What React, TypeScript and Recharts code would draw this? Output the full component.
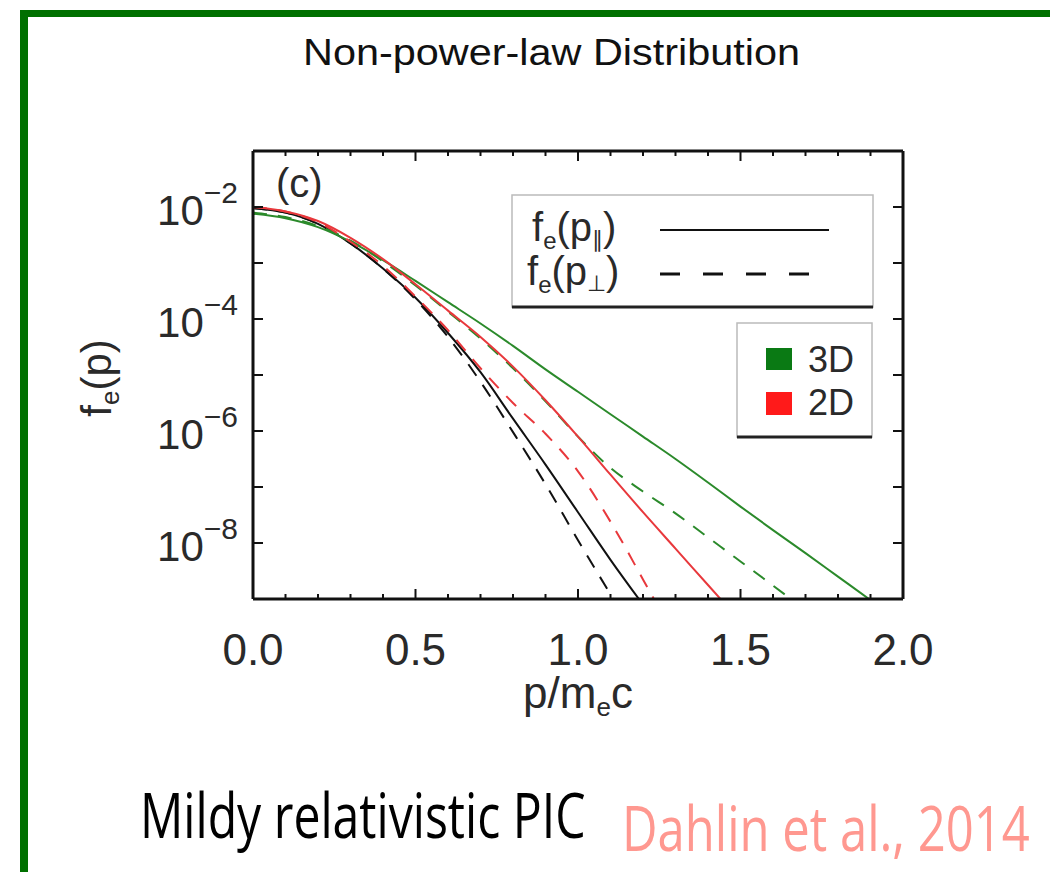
import { LineChart, Line, XAxis, YAxis } from 'recharts'

// momentum grid p / m_e c
const P = [0.0, 0.1, 0.2, 0.3, 0.4, 0.5, 0.6, 0.7, 0.8, 0.9, 1.0, 1.1, 1.2, 1.3, 1.4, 1.5, 1.6, 1.7, 1.8, 1.9, 2.0]

// log10 f_e(p) (null = curve already left the plot)
const GREEN_PAR = [-2.12, -2.2, -2.36, -2.62, -2.95, -3.32, -3.7, -4.08, -4.48, -4.9, -5.3, -5.7, -6.1, -6.5, -6.92, -7.35, -7.77, -8.18, -8.6, -9.02, -9.45]
const GREEN_PERP = [-2.1, -2.18, -2.34, -2.6, -2.97, -3.4, -3.87, -4.35, -4.88, -5.47, -6.1, -6.66, -7.08, -7.47, -7.9, -8.33, -8.76, -9.2, null, null, null]
const RED_PAR = [-2.0, -2.08, -2.25, -2.55, -2.93, -3.38, -3.85, -4.32, -4.85, -5.45, -6.1, -6.78, -7.45, -8.1, -8.75, -9.4, null, null, null, null, null]
const RED_PERP = [-2.0, -2.08, -2.27, -2.62, -3.05, -3.6, -4.2, -4.88, -5.5, -6.05, -6.72, -7.62, -8.65, -9.7, null, null, null, null, null, null, null]
const BLACK_PAR = [-2.02, -2.1, -2.3, -2.65, -3.1, -3.62, -4.25, -4.95, -5.78, -6.6, -7.45, -8.3, -9.1, null, null, null, null, null, null, null, null]
const BLACK_PERP = [-2.02, -2.1, -2.3, -2.65, -3.1, -3.65, -4.32, -5.12, -6.02, -6.95, -7.95, -8.92, -9.9, null, null, null, null, null, null, null, null]

const X_TICKS = [0, 0.1, 0.2, 0.3, 0.4, 0.5, 0.6, 0.7, 0.8, 0.9, 1, 1.1, 1.2, 1.3, 1.4, 1.5, 1.6, 1.7, 1.8, 1.9, 2]
const X_LABELS = [0, 0.5, 1, 1.5, 2]
const Y_TICKS = [1e-9, 1e-8, 1e-7, 1e-6, 1e-5, 1e-4, 1e-3, 1e-2, 1e-1]
const Y_LABEL_EXP = [-2, -4, -6, -8]

const GREEN = '#2b8a2b'
const RED = '#e8383c'
const BLACK = '#111111'
const AXIS = '#111111'
const TXT = '#2a2a2a'
const FONT = '"Liberation Sans", Arial, sans-serif'
const CAPTION_FONT = '"Open Sans", sans-serif'

const toF = (v: number | null) => (v === null ? null : Math.pow(10, v))

const data = P.map((p, i) => ({
  p,
  gPar: toF(GREEN_PAR[i]),
  gPerp: toF(GREEN_PERP[i]),
  rPar: toF(RED_PAR[i]),
  rPerp: toF(RED_PERP[i]),
  kPar: toF(BLACK_PAR[i]),
  kPerp: toF(BLACK_PERP[i]),
}))

const isMajorX = (v: number) => X_LABELS.some((l) => Math.abs(l - v) < 1e-6)

function BottomTick({ x, y, payload }: any) {
  const v = payload.value
  const major = isMajorX(v)
  return (
    <g>
      <line x1={x} x2={x} y1={y} y2={y - (major ? 10 : 5)} stroke={AXIS} strokeWidth={2} />
      {major && (
        <text x={x} y={y + 66} textAnchor="middle" fontSize={44} fill={TXT} fontFamily={FONT}>
          {v.toFixed(1)}
        </text>
      )}
    </g>
  )
}

function TopTick({ x, y, payload }: any) {
  const major = isMajorX(payload.value)
  return <line x1={x} x2={x} y1={y} y2={y + (major ? 10 : 5)} stroke={AXIS} strokeWidth={2} />
}

function LeftTick({ x, y, payload }: any) {
  const exp = Math.round(Math.log10(payload.value))
  return (
    <g>
      <line x1={x} x2={x + 10} y1={y} y2={y} stroke={AXIS} strokeWidth={2} />
      {Y_LABEL_EXP.includes(exp) && (
        <text x={x - 15} y={y + 18} textAnchor="end" fill={TXT} fontFamily={FONT}>
          <tspan fontSize={42}>10</tspan>
          <tspan fontSize={30} dy={-22}>{'\u2212' + Math.abs(exp)}</tspan>
        </text>
      )}
    </g>
  )
}

function RightTick({ x, y }: any) {
  return <line x1={x} x2={x - 10} y1={y} y2={y} stroke={AXIS} strokeWidth={2} />
}

const axisLine = { stroke: AXIS, strokeWidth: 3 }

export default function App() {
  return (
    <div style={{ position: 'absolute', left: 0, top: 0, width: 1050, height: 872, background: '#fff', overflow: 'hidden' }}>
      <div style={{ position: 'absolute', left: 20, top: 10, width: 1100, height: 1000, borderTop: '7px solid #007000', borderLeft: '8px solid #007000' }} />
      <div style={{ position: 'absolute', left: 0, top: 0 }}>
        <LineChart width={1050} height={872} data={data} margin={{ top: 131, right: 127, bottom: 253, left: 233 }}>
          <XAxis xAxisId="b" dataKey="p" type="number" domain={[0, 2]} ticks={X_TICKS} interval={0}
            orientation="bottom" height={20} tickSize={0} tickMargin={0} axisLine={axisLine} tickLine={false} tick={BottomTick} />
          <XAxis xAxisId="t" dataKey="p" type="number" domain={[0, 2]} ticks={X_TICKS} interval={0}
            orientation="top" height={20} tickSize={0} tickMargin={0} axisLine={axisLine} tickLine={false} tick={TopTick} />
          <YAxis yAxisId="l" type="number" scale="log" domain={[1e-9, 1e-1]} allowDataOverflow ticks={Y_TICKS} interval={0}
            orientation="left" width={20} tickSize={0} tickMargin={0} axisLine={axisLine} tickLine={false} tick={LeftTick} />
          <YAxis yAxisId="r" type="number" scale="log" domain={[1e-9, 1e-1]} allowDataOverflow ticks={Y_TICKS} interval={0}
            orientation="right" width={20} tickSize={0} tickMargin={0} axisLine={axisLine} tickLine={false} tick={RightTick} />

          <Line xAxisId="t" yAxisId="r" dataKey="gPar" stroke="transparent" dot={false} legendType="none" isAnimationActive={false} />

          <Line xAxisId="b" yAxisId="l" type="monotone" dataKey="kPerp" stroke={BLACK} strokeWidth={2} strokeDasharray="14 11" dot={false} isAnimationActive={false} />
          <Line xAxisId="b" yAxisId="l" type="monotone" dataKey="kPar" stroke={BLACK} strokeWidth={2} dot={false} isAnimationActive={false} />
          <Line xAxisId="b" yAxisId="l" type="monotone" dataKey="gPerp" stroke={GREEN} strokeWidth={2} strokeDasharray="14 11" dot={false} isAnimationActive={false} />
          <Line xAxisId="b" yAxisId="l" type="monotone" dataKey="gPar" stroke={GREEN} strokeWidth={2} dot={false} isAnimationActive={false} />
          <Line xAxisId="b" yAxisId="l" type="monotone" dataKey="rPerp" stroke={RED} strokeWidth={2} strokeDasharray="14 11" dot={false} isAnimationActive={false} />
          <Line xAxisId="b" yAxisId="l" type="monotone" dataKey="rPar" stroke={RED} strokeWidth={2} dot={false} isAnimationActive={false} />
        </LineChart>
      </div>

      <svg width={1050} height={872} style={{ position: 'absolute', left: 0, top: 0, pointerEvents: 'none' }}>
        <text x={303} y={65} fontSize={36} fill="#111" fontFamily={FONT} textLength={497} lengthAdjust="spacingAndGlyphs">
          Non-power-law Distribution
        </text>

        <text x={276} y={197} fontSize={40} fill={TXT} fontFamily={FONT}>(c)</text>

        {/* axis titles */}
        <text x={578} y={708} textAnchor="middle" fill={TXT} fontFamily={FONT}>
          <tspan fontSize={44}>p/m</tspan>
          <tspan fontSize={26} dy={8}>e</tspan>
          <tspan fontSize={44} dy={-8}>c</tspan>
        </text>
        <text x={0} y={0} transform="translate(111 378) rotate(-90)" textAnchor="middle" fill={TXT} fontFamily={FONT}>
          <tspan fontSize={42}>f</tspan>
          <tspan fontSize={26} dy={8}>e</tspan>
          <tspan fontSize={42} dy={-8}>(p)</tspan>
        </text>

        {/* line-style legend */}
        <rect x={512} y={195} width={361} height={112} fill="#fff" stroke="#bbb" strokeWidth={1.5} />
        <line x1={512} x2={873} y1={307} y2={307} stroke="#222" strokeWidth={3} />
        <text x={532} y={241} fill={TXT} fontFamily={FONT}>
          <tspan fontSize={40}>f</tspan>
          <tspan fontSize={24} dy={8}>e</tspan>
          <tspan fontSize={40} dy={-8}>(p</tspan>
          <tspan fontSize={22} dy={6}>{'\u2225'}</tspan>
          <tspan fontSize={40} dy={-6}>)</tspan>
        </text>
        <text x={527} y={285} fill={TXT} fontFamily={FONT}>
          <tspan fontSize={40}>f</tspan>
          <tspan fontSize={24} dy={8}>e</tspan>
          <tspan fontSize={40} dy={-8}>(p</tspan>
          <tspan fontSize={22} dy={6}>{'\u22A5'}</tspan>
          <tspan fontSize={40} dy={-6}>)</tspan>
        </text>
        <line x1={660} x2={829} y1={230} y2={230} stroke={BLACK} strokeWidth={2} />
        <line x1={660} x2={810} y1={274} y2={274} stroke={BLACK} strokeWidth={3} strokeDasharray="20 23" />

        {/* colour legend */}
        <rect x={737} y={323} width={135} height={114} fill="#fff" stroke="#bbb" strokeWidth={1.5} />
        <line x1={737} x2={872} y1={437} y2={437} stroke="#222" strokeWidth={3} />
        <rect x={766} y={348} width={26} height={22} fill="#0a7a14" />
        <rect x={766} y={392} width={26} height={23} fill="#ff1a1a" />
        <text x={808} y={372} fontSize={36} fill={TXT} fontFamily={FONT}>3D</text>
        <text x={808} y={415} fontSize={36} fill={TXT} fontFamily={FONT}>2D</text>

        {/* caption, horizontally condensed */}
        <text x={0} y={0} transform="translate(140 838) scale(0.777 1)" fontSize={62} fill="#000" fontFamily={CAPTION_FONT}>
          Mildy relativistic PIC
        </text>
        <text x={0} y={0} transform="translate(622 851) scale(0.79 1)" fontSize={62} fill="#ff9890" fontFamily={CAPTION_FONT}>
          Dahlin et al., 2014
        </text>
      </svg>
    </div>
  )
}
